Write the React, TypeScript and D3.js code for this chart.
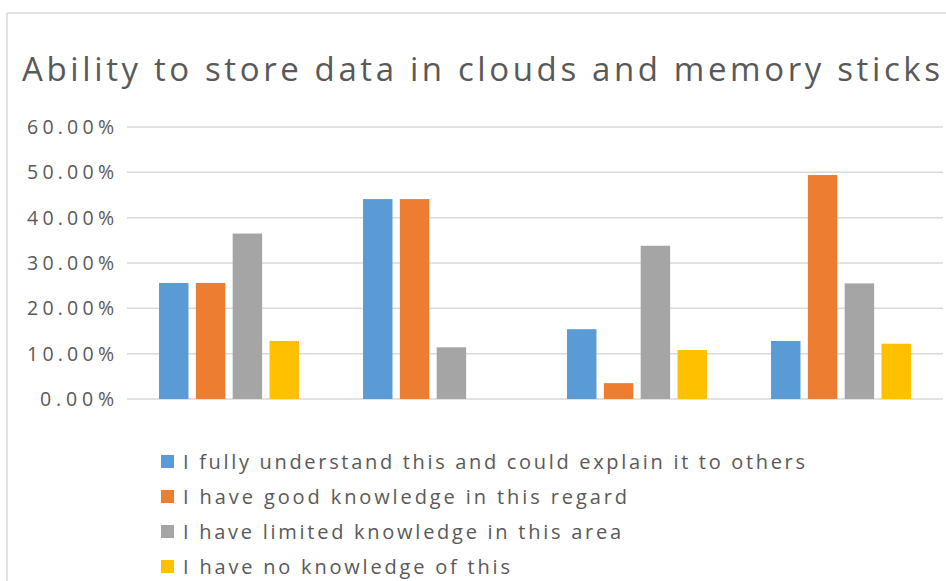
import React from "react";
import * as d3 from "d3";

const categories = ["Group 1", "Group 2", "Group 3", "Group 4"];
const seriesNames = [
  "I fully understand this and could explain it to others",
  "I have good knowledge in this regard",
  "I have limited knowledge in this area",
  "I have no knowledge of this",
];
const seriesColors = ["#5B9BD5", "#ED7D31", "#A5A5A5", "#FFC000"];
const fullyUnderstand = [25.6, 44.1, 15.4, 12.8];
const goodKnowledge = [25.6, 44.1, 3.5, 49.4];
const limitedKnowledge = [36.5, 11.4, 33.8, 25.5];
const noKnowledge = [12.8, 0, 10.8, 12.2];
const yTicks = [0, 10, 20, 30, 40, 50, 60];
const titleText = "Ability to store data in clouds and memory sticks";

const seriesValues = [fullyUnderstand, goodKnowledge, limitedKnowledge, noKnowledge];
const legendWidths = [622, 444, 438, 327];

export default function App() {
  const W = 946;
  const H = 581;
  const left = 127;
  const right = 943;
  const y = d3.scaleLinear().domain([0, 60]).range([399, 127]);
  const x0 = d3
    .scaleBand<string>()
    .domain(categories)
    .range([left, right])
    .paddingInner(0.314)
    .paddingOuter(0.157);
  const x1 = d3
    .scaleBand<number>()
    .domain(d3.range(seriesNames.length))
    .range([0, x0.bandwidth()])
    .paddingInner(0.2);
  const textColor = "#595959";
  const font = "'Open Sans', 'Noto Sans', sans-serif";

  return (
    <svg
      width={W}
      height={H}
      style={{ position: "absolute", left: 0, top: 0, background: "#fff" }}
      fontFamily={font}
    >
      <rect x={0} y={0} width={W} height={H} fill="#fff" />
      <line x1={7} y1={13} x2={946} y2={13} stroke="#d9d9d9" strokeWidth={1.5} />
      <line x1={7} y1={13} x2={7} y2={581} stroke="#d9d9d9" strokeWidth={1.5} />

      <text
        x={22}
        y={81}
        fontSize={33}
        fill={textColor}
        textLength={918}
        lengthAdjust="spacing"
      >
        {titleText}
      </text>

      {yTicks.map((t) => {
        const label = t.toFixed(2) + "%";
        return (
          <g key={t}>
            <line
              x1={left}
              x2={right}
              y1={y(t)}
              y2={y(t)}
              stroke="#d9d9d9"
              strokeWidth={1.5}
            />
            <text
              x={114}
              y={y(t) + 7}
              fontSize={19.5}
              fill={textColor}
              textAnchor="end"
              textLength={label.length === 6 ? 87 : 74}
              lengthAdjust="spacing"
            >
              {label}
            </text>
          </g>
        );
      })}

      {categories.map((c, ci) => (
        <g key={c} transform={`translate(${x0(c)},0)`}>
          {seriesValues.map((vals, si) =>
            vals[ci] > 0 ? (
              <rect
                key={si}
                x={x1(si)}
                y={y(vals[ci])}
                width={x1.bandwidth()}
                height={y(0) - y(vals[ci])}
                fill={seriesColors[si]}
              />
            ) : null
          )}
        </g>
      ))}

      {seriesNames.map((name, i) => {
        const base = 469 + i * 35;
        return (
          <g key={name}>
            <rect x={161} y={base - 14} width={13} height={13} fill={seriesColors[i]} />
            <text
              x={183}
              y={base}
              fontSize={20}
              fill={textColor}
              textLength={legendWidths[i]}
              lengthAdjust="spacing"
            >
              {name}
            </text>
          </g>
        );
      })}
    </svg>
  );
}
